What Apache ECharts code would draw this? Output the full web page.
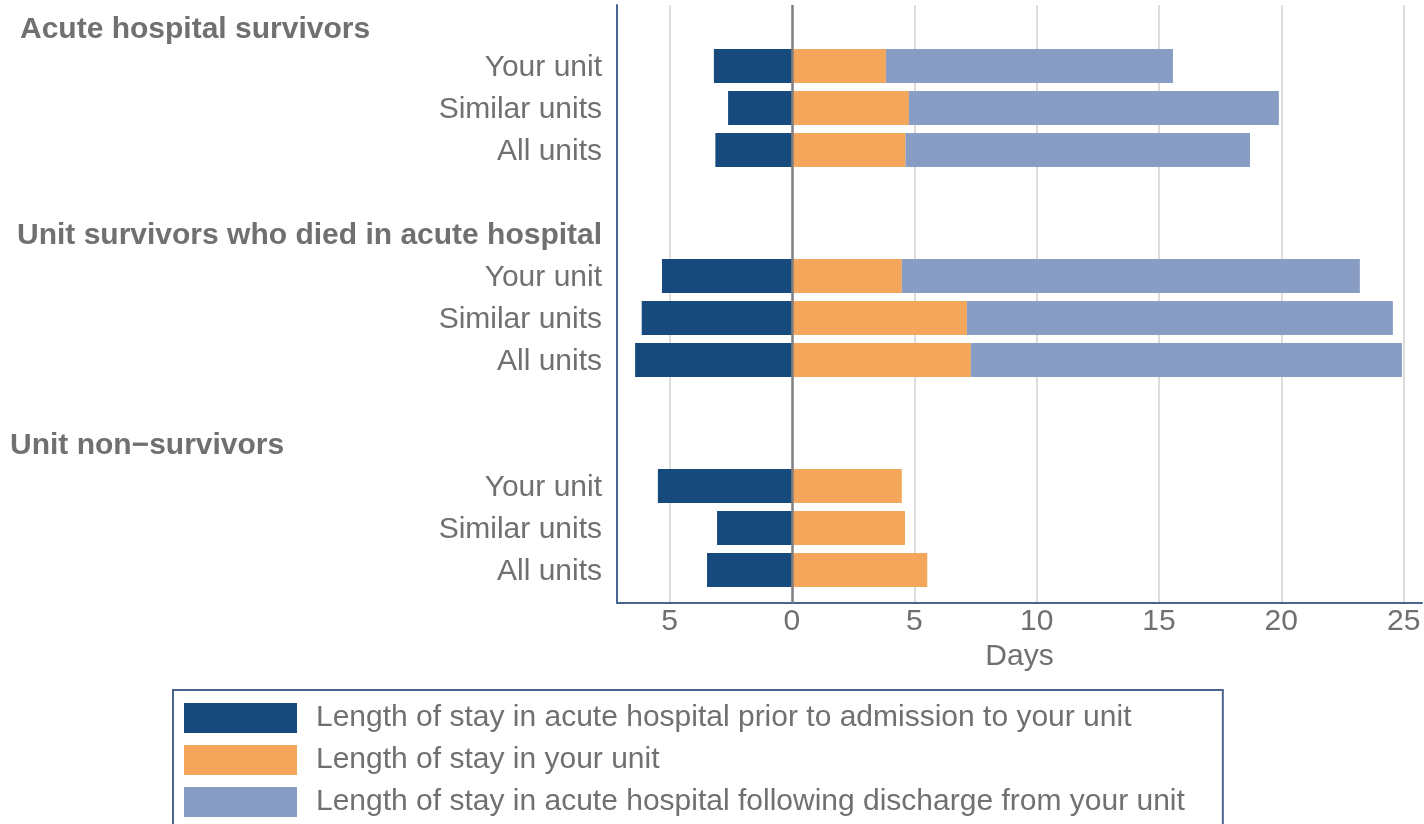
<!DOCTYPE html>
<html>
<head>
<meta charset="utf-8">
<script src="https://cdn.jsdelivr.net/npm/echarts@6/dist/echarts.min.js"></script>
<style>
  html, body { margin: 0; padding: 0; background: #ffffff; }
  #chart { width: 1424px; height: 824px; }
</style>
</head>
<body>
<div id="chart"></div>
<script>
// ---------- data ----------
const groupNames = ['Acute hospital survivors', 'Unit survivors who died in acute hospital', 'Unit non\u2212survivors'];
const unitNames = ['Your unit', 'Similar units', 'All units'];
const seriesNames = [
  'Length of stay in acute hospital prior to admission to your unit',
  'Length of stay in your unit',
  'Length of stay in acute hospital following discharge from your unit'
];
// days, per group, per unit (Your unit, Similar units, All units)
const priorStay = [[3.19, 2.61, 3.13], [5.31, 6.14, 6.41], [5.48, 3.06, 3.47]];
const unitStay  = [[3.84, 4.78, 4.64], [4.49, 7.15, 7.31], [4.49, 4.62, 5.53]];
const afterStay = [[11.73, 15.12, 14.08], [18.72, 17.41, 17.62], [null, null, null]];
const tickValues = [-5, 0, 5, 10, 15, 20, 25];
const axisMin = -7.15, axisMax = 25.75;

// ---------- build rows ----------
const rowLabels = [], rowKind = [], priorData = [], unitData = [], afterData = [];
groupNames.forEach((g, gi) => {
  if (gi > 0) { rowLabels.push(' '); rowKind.push('blank'); priorData.push(null); unitData.push(null); afterData.push(null); }
  rowLabels.push(g); rowKind.push('h' + gi); priorData.push(null); unitData.push(null); afterData.push(null);
  unitNames.forEach((u, ui) => {
    rowLabels.push(u); rowKind.push('row');
    priorData.push(-priorStay[gi][ui]);
    unitData.push(unitStay[gi][ui]);
    afterData.push(afterStay[gi][ui]);
  });
});

const FONT = "'Liberation Sans', Arial, sans-serif";
const FS = 30;
const TXT = '#707070';
const AXIS_BLUE = '#4a6491';
const colors = ['#174a7c', '#f4a65a', '#889cc4'];

const chart = echarts.init(document.getElementById('chart'), null, { renderer: 'canvas' });
chart.setOption({
  animation: false,
  textStyle: { fontFamily: FONT },
  grid: [
    { left: 617, right: 2, top: 3, height: 588, containLabel: false },
    { left: 617, right: 2, top: 5, bottom: 221, containLabel: false }
  ],
  xAxis: [
    { type: 'value', gridIndex: 0, min: axisMin, max: axisMax, show: false },
    {
      type: 'value', gridIndex: 1, min: axisMin, max: axisMax,
      axisLine: { show: true, onZero: false, lineStyle: { color: AXIS_BLUE, width: 2 } },
      axisTick: { show: false, customValues: tickValues },
      axisLabel: {
        customValues: tickValues, margin: 4,
        formatter: v => String(Math.abs(v)),
        fontSize: FS, color: TXT, fontFamily: FONT
      },
      splitLine: {
        show: true,
        lineStyle: { color: tickValues.map(v => v === 0 ? 'rgba(0,0,0,0)' : '#dcdcdc'), width: 2 }
      },
      name: 'Days', nameLocation: 'middle', nameGap: 29,
      nameTextStyle: { fontSize: FS, color: TXT, fontFamily: FONT }
    }
  ],
  yAxis: [
    {
      type: 'category', gridIndex: 0, inverse: true, data: rowLabels,
      axisLine: { show: false }, axisTick: { show: false }, splitLine: { show: false },
      axisLabel: {
        interval: 0, margin: 15, fontSize: FS, color: TXT, fontFamily: FONT,
        padding: [4, 0, 0, 0],
        formatter: (v, i) => {
          const k = rowKind[i];
          if (k && k[0] === 'h') return '{' + k + '|' + v + '}';
          return v;
        },
        rich: {
          h0: { fontSize: FS, fontWeight: 'bold', color: TXT, fontFamily: FONT, width: 582, align: 'left', padding: [8, 0, 0, 0] },
          h1: { fontSize: FS, fontWeight: 'bold', color: TXT, fontFamily: FONT, width: 585, align: 'left' },
          h2: { fontSize: FS, fontWeight: 'bold', color: TXT, fontFamily: FONT, width: 592, align: 'left' }
        }
      }
    },
    {
      type: 'value', gridIndex: 1, min: 0, max: 1,
      axisLine: { show: true, onZero: false, lineStyle: { color: AXIS_BLUE, width: 2 } },
      axisTick: { show: false }, axisLabel: { show: false }, splitLine: { show: false }
    }
  ],
  legend: {
    data: seriesNames,
    orient: 'vertical',
    left: 173, top: 690,
    width: 1100, height: 130,
    padding: [13, 38, 13, 11],
    itemWidth: 113, itemHeight: 30, itemGap: 12,
    icon: 'rect',
    borderColor: AXIS_BLUE, borderWidth: 2,
    textStyle: { fontSize: FS, color: TXT, fontFamily: FONT, padding: [4, 0, 0, 14] },
    selectedMode: false
  },
  series: [
    { name: seriesNames[0], type: 'bar', xAxisIndex: 0, yAxisIndex: 0, stack: 'los', data: priorData, barWidth: 34, itemStyle: { color: colors[0] } },
    { name: seriesNames[1], type: 'bar', xAxisIndex: 0, yAxisIndex: 0, stack: 'los', data: unitData, barWidth: 34, itemStyle: { color: colors[1] } },
    { name: seriesNames[2], type: 'bar', xAxisIndex: 0, yAxisIndex: 0, stack: 'los', data: afterData, barWidth: 34, itemStyle: { color: colors[2] } },
    {
      name: 'zero', type: 'line', xAxisIndex: 1, yAxisIndex: 1, data: [], z: 5, silent: true,
      markLine: {
        silent: true, symbol: 'none', animation: false,
        label: { show: false },
        lineStyle: { color: '#7f7f7f', width: 2.5, type: 'solid' },
        data: [{ xAxis: 0 }]
      }
    }
  ]
});
</script>
</body>
</html>
